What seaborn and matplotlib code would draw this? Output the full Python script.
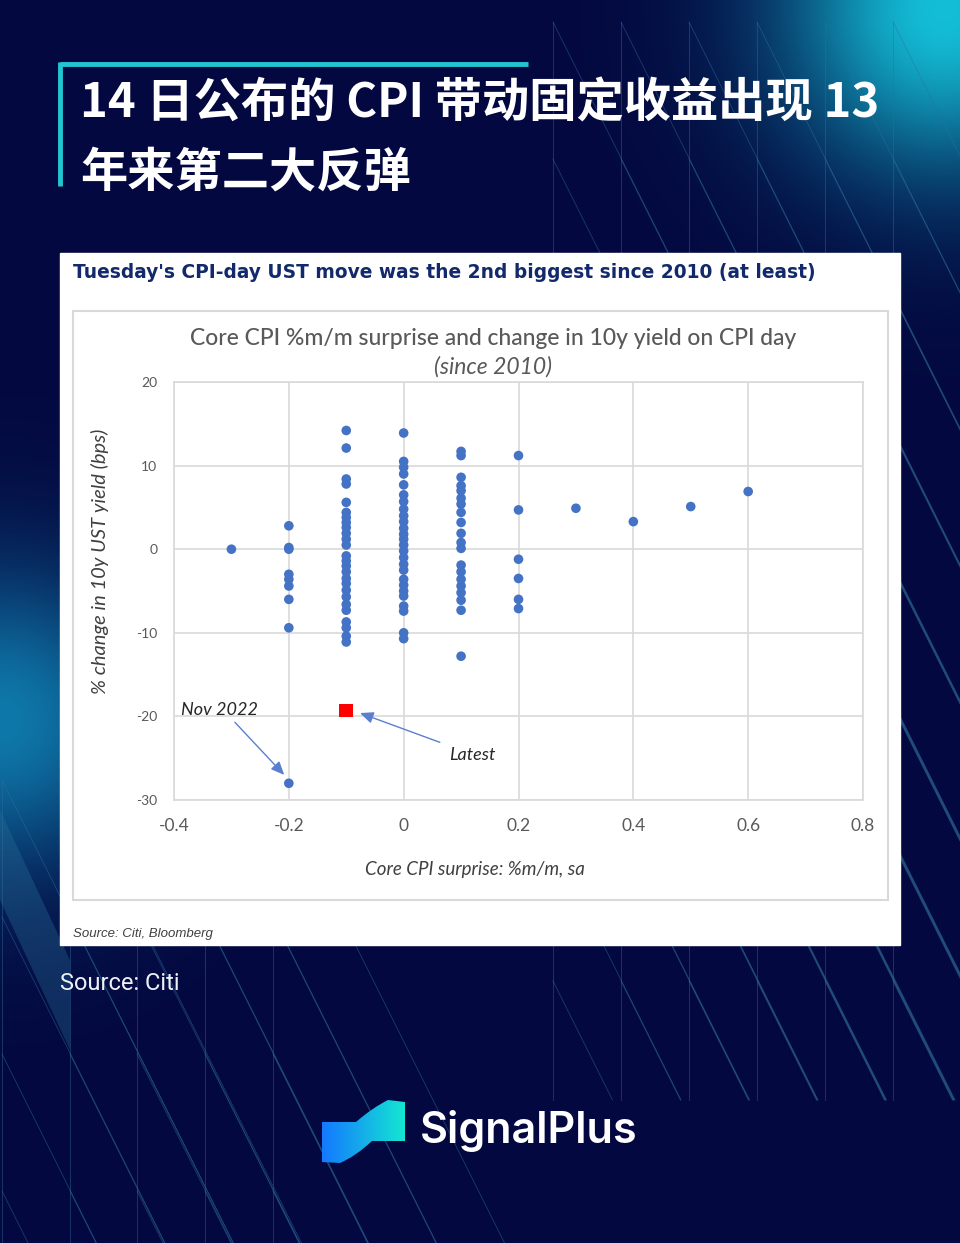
import numpy as np
import pandas as pd
import matplotlib
matplotlib.use("Agg")
import matplotlib.pyplot as plt
import seaborn as sns
from matplotlib.patches import Rectangle, Polygon, PathPatch
from matplotlib.path import Path

# Dados: surpresa do core CPI (%m/m) e variação do 10y (bps)
surprise_levels = [-0.3, -0.2, -0.1, 0.0, 0.1, 0.2, 0.3, 0.4, 0.5, 0.6]
yld_m03 = [0.0]
yld_m02 = [2.8, 0.2, 0.0, -3.0, -3.6, -4.4, -6.0, -9.4, -28.0]
yld_m01 = [14.2, 12.1, 8.4, 7.8, 5.6, 4.4, 3.8, 3.2, 2.6, 1.9, 1.2, 0.5,
           -0.8, -1.4, -2.0, -2.7, -3.5, -4.1, -4.9, -5.7, -6.6, -7.3,
           -8.7, -9.4, -10.4, -11.1]
yld_00 = [13.9, 10.5, 9.8, 9.0, 7.7, 6.5, 5.7, 4.8, 4.0, 3.3, 2.5, 1.8,
          1.2, 0.5, -0.2, -1.0, -1.8, -2.5, -3.6, -4.3, -5.0, -5.6, -6.8,
          -7.4, -10.0, -10.7]
yld_p01 = [11.7, 11.2, 8.6, 7.6, 7.0, 6.1, 5.4, 4.4, 3.2, 1.9, 0.8, 0.1,
           -1.9, -2.7, -3.6, -4.4, -5.2, -6.1, -7.3, -12.8]
yld_p02 = [11.2, 4.7, -1.2, -3.5, -6.0, -7.1]
yld_p03 = [4.9]
yld_p04 = [3.3]
yld_p05 = [5.1]
yld_p06 = [6.9]
latest_x = [-0.1]
latest_y = [-19.3]

x_ticks = [-0.4, -0.2, 0.0, 0.2, 0.4, 0.6, 0.8]
x_tick_labels = ["-0.4", "-0.2", "0", "0.2", "0.4", "0.6", "0.8"]
y_ticks = [-30, -20, -10, 0, 10, 20]
y_tick_labels = ["-30", "-20", "-10", "0", "10", "20"]

groups = [yld_m03, yld_m02, yld_m01, yld_00, yld_p01, yld_p02,
          yld_p03, yld_p04, yld_p05, yld_p06]
df = pd.concat([pd.DataFrame({"surprise": s, "change": g})
                for s, g in zip(surprise_levels, groups)], ignore_index=True)
df_latest = pd.DataFrame({"surprise": latest_x, "change": latest_y})

W, H = 960, 1243
fig = plt.figure(figsize=(W / 100, H / 100), dpi=100)

# Fundo azul escuro com brilhos
bg = fig.add_axes([0, 0, 1, 1], zorder=0)
bg.axis("off")
yy, xx = np.mgrid[0:H, 0:W]
img = np.zeros((H, W, 3))
img[:] = np.array([3, 9, 64]) / 255
for cx, cy, r, col in [(945, 10, 160, (20, 190, 215)),
                       (0, 720, 150, (15, 120, 170))]:
    w = np.exp(-((xx - cx) ** 2 + (yy - cy) ** 2) / r ** 2)[..., None]
    img = img * (1 - w) + (np.array(col) / 255) * w
bg.imshow(img, extent=(0, W, H, 0), aspect="auto", zorder=0)

# faixa diagonal clara à esquerda
bg.add_patch(Polygon([(0, 810), (0, 900), (70, 1050), (70, 960)],
                     closed=True, color="#2a6f9a", alpha=0.35, lw=0, zorder=1))

line_kw = dict(color="#2f6f9e", lw=0.6, alpha=0.5, zorder=1)
for xv in [553, 621, 689, 757, 825, 893]:
    bg.plot([xv, xv], [22, 1100], **line_kw)
    for y0 in range(22, 1000, 137):
        y1 = min(1100, y0 + 2 * (960 - xv))
        bg.plot([xv, xv + (y1 - y0) / 2], [y0, y1], **line_kw)
for xv in [2, 70, 137, 205, 273]:
    bg.plot([xv, xv], [780, H], **line_kw)
    for y0 in range(780, H, 137):
        bg.plot([xv, xv + (H - y0) / 2], [y0, H], **line_kw)

# colchete ciano do título
bg.plot([60, 528], [64, 64], color="#22c6d2", lw=3.5, zorder=3,
        solid_capstyle="butt")
bg.plot([60, 60], [62, 186], color="#22c6d2", lw=3.5, zorder=3,
        solid_capstyle="butt")

cjk = ["Noto Sans CJK SC", "DejaVu Sans"]
bg.text(80, 104, "14 日公布的 CPI 带动固定收益出现 13", color="white",
        fontsize=34, fontweight="bold", family=cjk, va="center", ha="left",
        zorder=4)
bg.text(80, 173, "年来第二大反弹", color="white", fontsize=34,
        fontweight="bold", family=cjk, va="center", ha="left", zorder=4)

# painel branco
bg.add_patch(Rectangle((60, 253), 840, 692, color="white", zorder=2))
bg.add_patch(Rectangle((73, 311), 815, 589, fill=False, ec="#d9d9d9",
                       lw=1.5, zorder=3))
bg.text(73, 272, "Tuesday's CPI-day UST move was the 2nd biggest since 2010 (at least)",
        color="#12296b", fontsize=13.4, fontweight="bold", family="DejaVu Sans",
        va="center", ha="left", zorder=4)
bg.text(493, 338, "Core CPI %m/m surprise and change in 10y yield on CPI day",
        color="#595959", fontsize=16.5, family="Lato", fontweight="medium",
        va="center", ha="center", zorder=4)
bg.text(493, 367, "(since 2010)", color="#595959", fontsize=16.5,
        family="Lato", style="italic", va="center", ha="center", zorder=4)
bg.text(475, 869, "Core CPI surprise: %m/m, sa", color="#404040",
        fontsize=13.5, family="Lato", style="italic", va="center",
        ha="center", zorder=4)
bg.text(100, 561, "% change in 10y UST yield (bps)", color="#404040",
        fontsize=14.5, family="Lato", style="italic", va="center",
        ha="center", rotation=90, zorder=4)
bg.text(73, 934, "Source: Citi, Bloomberg", color="#404040", fontsize=9.5,
        family="Liberation Sans", style="italic", va="center", ha="left",
        zorder=4)
bg.text(60, 983, "Source: Citi", color="#eef0f6", fontsize=17,
        family="Roboto", va="center", ha="left", zorder=4)

# logo SignalPlus
verts = [(322, 1122), (356, 1122), (372, 1108), (388, 1100), (405, 1102),
         (405, 1141), (372, 1141), (356, 1156), (340, 1163), (322, 1162),
         (322, 1122)]
codes = [Path.MOVETO, Path.LINETO, Path.CURVE3, Path.CURVE3, Path.LINETO,
         Path.LINETO, Path.LINETO, Path.CURVE3, Path.CURVE3, Path.LINETO,
         Path.CLOSEPOLY]
logo = PathPatch(Path(verts, codes), facecolor="none", edgecolor="none",
                 zorder=4)
bg.add_patch(logo)
grad = np.linspace(0, 1, 100)[None, :, None]
c0 = np.array([20, 120, 255]) / 255
c1 = np.array([20, 230, 210]) / 255
gimg = c0 * (1 - grad) + c1 * grad
gim = bg.imshow(np.repeat(gimg, 10, axis=0), extent=(322, 405, 1163, 1100),
                aspect="auto", zorder=4)
gim.set_clip_path(logo)
bg.text(420, 1131, "SignalPlus", color="white", fontsize=31,
        fontweight="semibold", family="Inter", va="center", ha="left",
        zorder=5)
bg.set_xlim(0, W)
bg.set_ylim(H, 0)

# gráfico de dispersão
ax = fig.add_axes([174 / W, 1 - 800 / H, 689 / W, 418 / H], zorder=5)
sns.scatterplot(data=df, x="surprise", y="change", ax=ax, color="#4472c4",
                s=48, edgecolor="none", zorder=3)
sns.scatterplot(data=df_latest, x="surprise", y="change", ax=ax,
                color="#ff0000", marker="s", s=95, edgecolor="none", zorder=4)
ax.set_xlim(-0.4, 0.8)
ax.set_ylim(-30, 20)
ax.set_xticks(x_ticks)
ax.set_xticklabels(x_tick_labels)
ax.set_yticks(y_ticks)
ax.set_yticklabels(y_tick_labels)
ax.tick_params(axis="x", length=0, pad=13, labelsize=12.5, colors="#595959")
ax.tick_params(axis="y", length=0, pad=12, labelsize=10, colors="#595959")
for lab in ax.get_xticklabels() + ax.get_yticklabels():
    lab.set_family("Lato")
ax.grid(True, color="#d9d9d9", lw=1.2)
ax.set_axisbelow(True)
for sp in ax.spines.values():
    sp.set_color("#d9d9d9")
    sp.set_linewidth(1.2)
ax.set_xlabel("")
ax.set_ylabel("")

arrow_kw = dict(arrowstyle="-|>,head_length=0.8,head_width=0.35",
                color="#5b7fcf", lw=1.0, shrinkA=0, shrinkB=0)
ax.annotate("", xy=(-0.076, -19.6), xytext=(0.063, -23.1),
            arrowprops=arrow_kw)
ax.annotate("", xy=(-0.208, -27.0), xytext=(-0.294, -20.7),
            arrowprops=arrow_kw)
ax.text(0.12, -24.6, "Latest", color="#262626", fontsize=13,
        family="Lato", style="italic", ha="center", va="center")
ax.text(-0.32, -19.2, "Nov 2022", color="#262626", fontsize=13,
        family="Lato", style="italic", ha="center", va="center")

fig.savefig("out.png", dpi=100)
